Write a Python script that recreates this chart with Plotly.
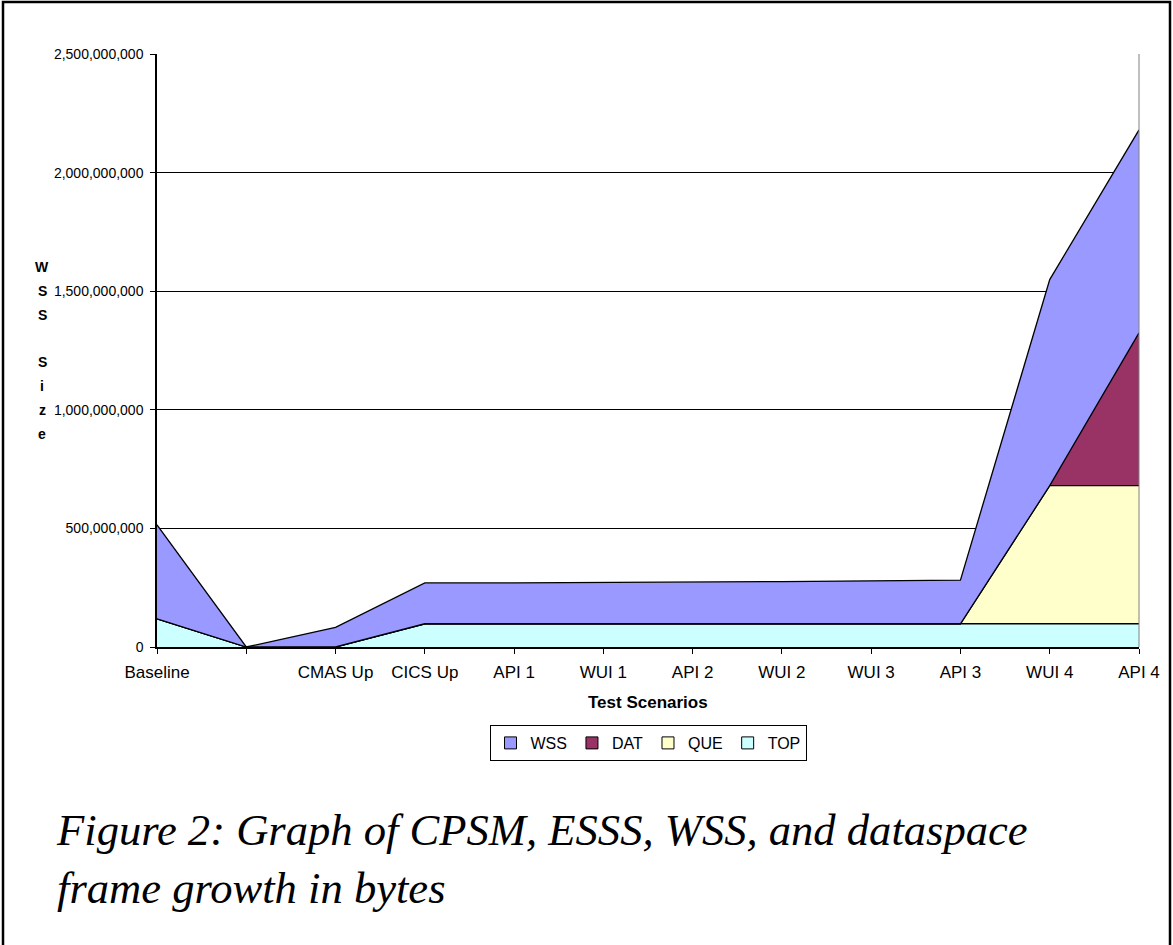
import plotly.graph_objects as go

categories = ["Baseline", " ", "CMAS Up", "CICS Up", "API 1", "WUI 1", "API 2",
              "WUI 2", "WUI 3", "API 3", "WUI 4", "API 4"]
# stacked layer values (bytes), bottom to top: TOP, QUE, DAT, WSS
top_vals = [119e6, 0, 0, 98e6, 98e6, 98e6, 98e6, 98e6, 98e6, 98e6, 98e6, 98e6]
que_vals = [0, 0, 0, 0, 0, 0, 0, 0, 0, 0, 582e6, 582e6]
dat_vals = [0, 0, 0, 0, 0, 0, 0, 0, 0, 0, 0, 644e6]
wss_vals = [396e6, 0, 83e6, 172e6, 172e6, 173e6, 175e6, 178e6, 181e6, 184e6, 869e6, 856e6]

y_ticks = [0, 500e6, 1000e6, 1500e6, 2000e6, 2500e6]
y_tick_text = ["0", "500,000,000", "1,000,000,000", "1,500,000,000",
               "2,000,000,000", "2,500,000,000"]

series = [
    ("TOP", top_vals, "#CCFFFF"),
    ("QUE", que_vals, "#FFFFCC"),
    ("DAT", dat_vals, "#993366"),
    ("WSS", wss_vals, "#9999FF"),
]

W, H = 1173, 945
ML, MR, MT, MB = 157, 34, 54, 298
PH = H - MT - MB


def py(Y):
    return (H - MB - Y) / PH


def px(X):
    return (X - ML) / (W - ML - MR)


fig = go.Figure()
for name, vals, color in series:
    fig.add_trace(go.Scatter(
        x=categories, y=vals, name=name, mode="lines",
        stackgroup="one", fillcolor=color, legendgroup=name,
        showlegend=False,
        line=dict(color="black", width=1.3),
    ))

# legend swatches (square, black-bordered, like the original)
for name, vals, color in series:
    fig.add_trace(go.Bar(
        x=[None], y=[None], name=name, legendgroup=name,
        marker=dict(color=color, line=dict(color="black", width=1)),
    ))

annotations = [
    dict(text="<b>Test Scenarios</b>", xref="paper", yref="paper",
         x=0.5, y=py(703), xanchor="center", yanchor="middle",
         showarrow=False, font=dict(size=17)),
    dict(text="<i>Figure 2: Graph of CPSM, ESSS, WSS, and dataspace<br>frame growth in bytes</i>",
         xref="paper", yref="paper", x=px(54), y=py(859),
         xanchor="left", yanchor="middle", align="left",
         showarrow=False,
         font=dict(family="Liberation Serif, Times New Roman, serif", size=44.6)),
]
for i, ch in enumerate("WSS Size"):
    annotations.append(dict(
        text="<b>%s</b>" % ch, xref="paper", yref="paper",
        x=px(42), y=py(267 + i * 23.8), xanchor="center", yanchor="middle",
        showarrow=False, font=dict(size=14)))

fig.update_layout(
    width=W, height=H,
    margin=dict(l=ML, r=MR, t=MT, b=MB),
    paper_bgcolor="white", plot_bgcolor="white",
    font=dict(family="Liberation Sans, Arial, sans-serif", color="black"),
    showlegend=True,
    legend=dict(
        orientation="h", traceorder="reversed",
        x=0.5, xanchor="center", y=py(743), yanchor="middle",
        bordercolor="black", borderwidth=1, bgcolor="white",
        font=dict(size=16), itemwidth=30,
    ),
    xaxis=dict(
        type="category", range=[0, len(categories) - 1],
        showline=True, linecolor="black", linewidth=1.5,
        ticks="outside", ticklen=5, tickcolor="black",
        tickfont=dict(size=17), showgrid=False, zeroline=False,
        ticklabelstandoff=4,
    ),
    yaxis=dict(
        range=[0, 2500e6], tickvals=y_ticks, ticktext=y_tick_text,
        showline=True, linecolor="black", linewidth=1.5,
        ticks="outside", ticklen=5, tickcolor="black",
        tickfont=dict(size=14), showgrid=True, gridcolor="black",
        gridwidth=1, zeroline=False, ticklabelstandoff=4,
    ),
    annotations=annotations,
    shapes=[
        dict(type="rect", xref="paper", yref="paper",
             x0=px(3), x1=px(1170), y0=py(960), y1=py(2),
             line=dict(color="black", width=2.5), fillcolor="rgba(0,0,0,0)",
             layer="below"),
        dict(type="line", xref="paper", yref="paper",
             x0=1, x1=1, y0=0, y1=1, line=dict(color="#808080", width=1)),
    ],
)

fig.write_html("out.html", config={"displayModeBar": False},
               post_script="document.body.style.margin='0px';")
